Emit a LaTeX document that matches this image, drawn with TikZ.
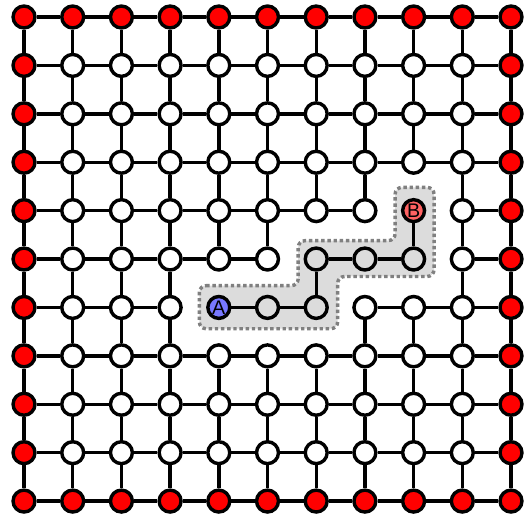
\documentclass[tikz,border=0pt]{standalone}
\usepackage{fontspec}
\setsansfont{Liberation Sans}
\usepackage{xcolor}
\usepackage{tikz}
\usetikzlibrary{positioning}

\definecolor{routegray}{RGB}{220,220,220}
\definecolor{startblue}{RGB}{120,120,255}
\definecolor{finishred}{RGB}{255,98,98}

\tikzset{
  site/.style={circle, draw, line width=2pt, minimum size=0.45cm, inner sep=0pt, fill=white,
    font=\sffamily\fontsize{11.5}{11.5}\selectfont},
  wall/.style={site, fill=red},
  route/.style={site, fill=routegray},
  bond/.style={line width=2pt},
  corridor/.style={fill=routegray, draw=gray, line width=2pt, dash pattern=on 2pt off 1.6pt,
    rounded corners=4pt},
}

% bonds that are cut in the lattice (h: to the right, v: downwards)
\newcommand{\cutbond}[1]{\expandafter\def\csname cut#1\endcsname{}}
\cutbond{h-7-4}\cutbond{h-8-4}
\cutbond{h-5-5}\cutbond{h-8-5}
\cutbond{h-3-6}\cutbond{h-6-6}
\cutbond{v-8-3}
\cutbond{v-6-4}\cutbond{v-7-4}
\cutbond{v-4-5}\cutbond{v-5-5}\cutbond{v-7-5}\cutbond{v-8-5}
\cutbond{v-4-6}\cutbond{v-5-6}\cutbond{v-6-6}

% sites of the path from A to B
\newcommand{\onroute}[1]{\expandafter\def\csname route#1\endcsname{}}
\onroute{4-6}\onroute{5-6}\onroute{6-6}\onroute{6-5}\onroute{7-5}\onroute{8-5}\onroute{8-4}

\begin{document}
\begin{tikzpicture}[x=1cm, y=-0.994cm]
\useasboundingbox (-0.493,-0.351) rectangle (10.349,10.289);

% Shaded corridor around the path
\path[corridor] (3.6,5.55) -- (5.63,5.55) -- (5.63,4.62) -- (7.62,4.62) -- (7.62,3.52)
  -- (8.42,3.52) -- (8.42,5.36) -- (6.44,5.36) -- (6.44,6.44) -- (3.6,6.44) -- cycle;

% Lattice sites
\foreach \i in {0,...,10}{
  \foreach \j in {0,...,10}{
    \ifcsname route\i-\j\endcsname\else
      \def\kind{site}
      \ifnum\i=0 \def\kind{wall}\fi
      \ifnum\i=10 \def\kind{wall}\fi
      \ifnum\j=0 \def\kind{wall}\fi
      \ifnum\j=10 \def\kind{wall}\fi
      \node[\kind] (n-\i-\j) at (\i,\j) {};
    \fi
  }
}

% Path sites
\node[site, fill=startblue] (n-4-6) at (4,6) {A};
\node[route] (n-5-6) at (5,6) {};
\node[route] (n-6-6) at (6,6) {};
\node[route] (n-6-5) at (6,5) {};
\node[route] (n-7-5) at (7,5) {};
\node[route] (n-8-5) at (8,5) {};
\node[site, fill=finishred] (n-8-4) at (8,4) {B};

% Horizontal bonds
\foreach \i [count=\k] in {0,...,9}{
  \foreach \j in {0,...,10}{
    \ifcsname cuth-\i-\j\endcsname\else
      \draw[bond] (n-\i-\j) -- (n-\k-\j);
    \fi
  }
}

% Vertical bonds
\foreach \i in {0,...,10}{
  \foreach \j [count=\k] in {0,...,9}{
    \ifcsname cutv-\i-\j\endcsname\else
      \draw[bond] (n-\i-\j) -- (n-\i-\k);
    \fi
  }
}

\end{tikzpicture}
\end{document}
